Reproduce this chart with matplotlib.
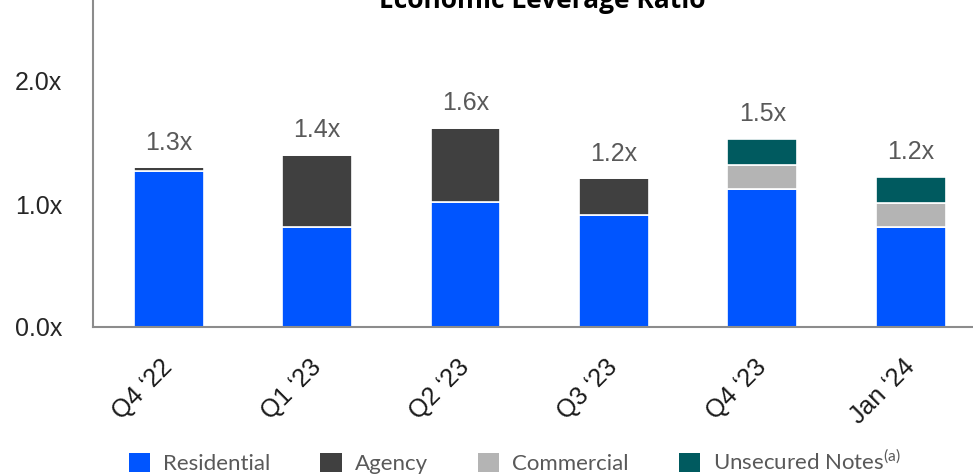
import matplotlib
matplotlib.use("Agg")
import matplotlib.pyplot as plt
import numpy as np

categories = ["Q4 \u201822", "Q1 \u201823", "Q2 \u201823", "Q3 \u201823", "Q4 \u201823", "Jan \u201824"]
residential = [1.27, 0.81, 1.02, 0.91, 1.12, 0.81]
agency = [0.03, 0.59, 0.60, 0.30, 0.0, 0.0]
commercial = [0.0, 0.0, 0.0, 0.0, 0.20, 0.20]
unsecured = [0.0, 0.0, 0.0, 0.0, 0.21, 0.21]
yticks = [0.0, 1.0, 2.0]
ytick_labels = ["0.0x", "1.0x", "2.0x"]
series_names = ["Residential", "Agency", "Commercial", "Unsecured Notes$^{\\mathregular{(a)}}$"]
colors = ["#0055FF", "#404040", "#B4B4B4", "#005A5F"]

plt.rcParams['font.family'] = ['Liberation Sans', 'DejaVu Sans']
plt.rcParams['mathtext.fontset'] = 'custom'
plt.rcParams['mathtext.rm'] = 'Lato'

fig = plt.figure(figsize=(9.73, 4.75), dpi=100)
ax = fig.add_axes([93/973, 1-327/475, 1-93/973, 327/475])

x = np.arange(len(categories))
width = 0.47
series = [residential, agency, commercial, unsecured]
bottom = np.zeros(len(categories))
handles = []
for vals, col, name in zip(series, colors, series_names):
    vals = np.array(vals)
    b = ax.bar(x, vals, width, bottom=bottom, color=col, edgecolor='white', linewidth=1.2, label=name)
    handles.append(b)
    bottom = bottom + vals

totals = bottom
for xi, t in zip(x, totals):
    ax.annotate(f"{t:.1f}x", (xi, t), xytext=(0, 9), textcoords='offset points',
                ha='center', va='bottom', fontsize=18, color='#595959')

ax.set_xlim(-0.51, 5.42)
ax.set_ylim(0, 327/123)
ax.set_yticks(yticks)
ax.set_yticklabels(ytick_labels, fontsize=18, color='#262626')
ax.set_xticks(x)
ax.set_xticklabels(categories, fontsize=18, color='#1a1a1a', rotation=45, ha='right', va='center',
                   rotation_mode='anchor')
ax.tick_params(axis='y', length=0, pad=22)
ax.tick_params(axis='x', length=0, pad=26)
for s in ['top', 'right']:
    ax.spines[s].set_visible(False)
for s in ['left', 'bottom']:
    ax.spines[s].set_color('#8C8C8C')
    ax.spines[s].set_linewidth(1.5)

fig.text(542/973, 1.0, "Economic Leverage Ratio", ha='center', va='center', fontsize=19,
         fontweight='bold', family='Open Sans', color='black')

leg = fig.legend(handles=handles, labels=series_names, loc='center', bbox_to_anchor=(515/973, 1-462/475),
                 ncol=4, frameon=False, prop={'family': 'Lato', 'size': 16}, labelcolor='#595959',
                 handlelength=0.95, handleheight=0.95, handletextpad=0.6, columnspacing=2.25,
                 borderpad=0, borderaxespad=0)
for h in leg.legend_handles:
    h.set_edgecolor('none')

fig.savefig("out.png", dpi=100)
